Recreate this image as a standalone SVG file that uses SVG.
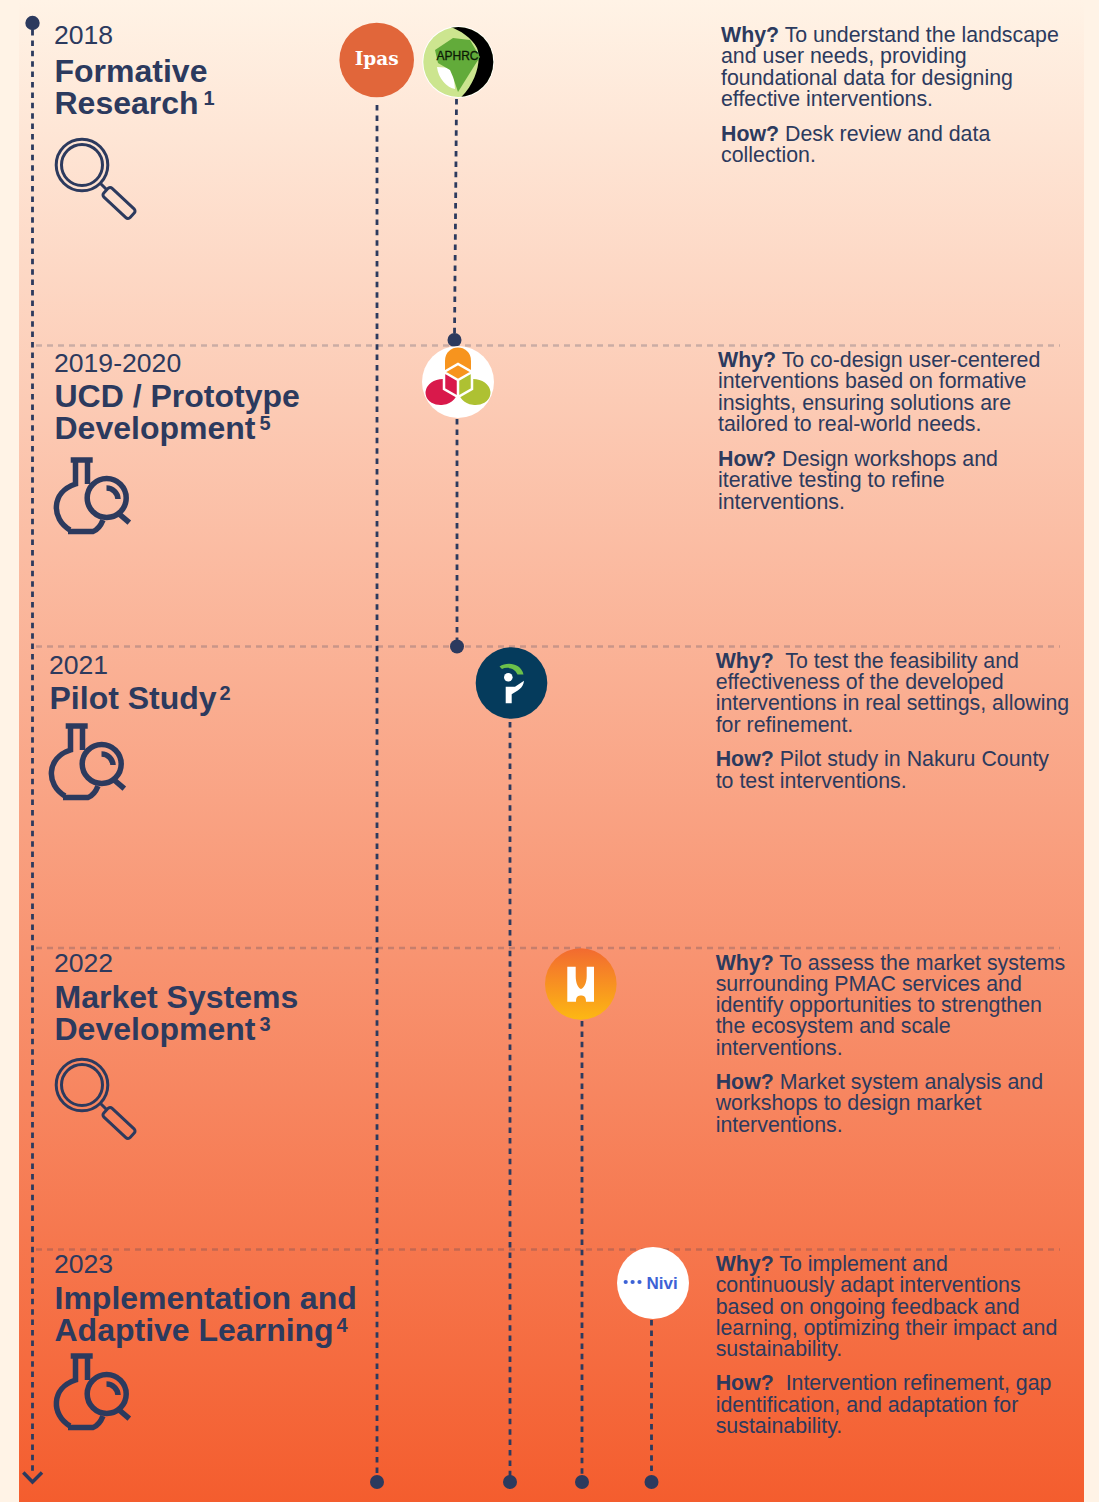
<svg xmlns="http://www.w3.org/2000/svg" width="1099" height="1502" viewBox="0 0 1099 1502">
<style>
text{font-family:"Liberation Sans",Arial,sans-serif;fill:#2c3a5e}
.y{font-size:26.6px}
.t{font-size:32px;font-weight:700}
.s{font-size:20px;font-weight:700}
.b{font-size:21.35px}
.b tspan.w{font-weight:700}
.d{fill:none;stroke:#2c3a5e;stroke-width:2.8;stroke-dasharray:5.5 4.9}
.r{fill:none;stroke:#2c3a5e;stroke-opacity:.24;stroke-width:2.5;stroke-dasharray:6 5}
.i{fill:none;stroke:#2c3a5e;stroke-width:3}
.f{fill:none;stroke:#2c3a5e;stroke-width:5.500}
.k{fill:#2c3a5e}
</style>
<defs>
<linearGradient id="bg" x1="0" y1="0" x2="0" y2="1"><stop offset="0" stop-color="#fff3e6"/><stop offset="1" stop-color="#f45d2e"/></linearGradient>
<linearGradient id="hg" x1="0" y1="0" x2="0" y2="1"><stop offset="0" stop-color="#f26a30"/><stop offset="1" stop-color="#fdb813"/></linearGradient>
<g id="lens"><circle cx="27" cy="26" r="25.800" class="i"/><circle cx="27" cy="26" r="20.500" class="i"/><path d="M45 44L52 51" class="i"/><rect x="-18" y="-6" width="36" height="12" rx="3" transform="translate(64 64) rotate(43)" class="i"/></g>
<g id="flask"><path d="M15.700 1H37.700" class="f"/><path d="M20.500 1V25C-4 33 -4 60 15 71M32.500 1V25M13 72.500H38C42 71 46 66 48 61" class="f"/><circle cx="51.700" cy="39" r="19.500" class="f"/><path d="M51.500 29A11.500 11.500 0 0 1 63 40" class="f"/><path d="M63 54L74.300 63.700" class="f"/></g>
<clipPath id="ac"><circle cx="458.300" cy="62" r="35"/></clipPath>
</defs>
<rect width="1099" height="1502" fill="#fff3e6"/>
<rect x="19" width="1065" height="1502" fill="url(#bg)"/>
<g id="connectors">
<path class="r" d="M36 345.500H1060M36 646.500H1060M36 948H1060M36 1249.500H1060"/>
<path class="d" d="M32.500 30V1472"/>
<path d="M23.300 1472.500L32.500 1482L42 1472.500" class="i" style="stroke-width:3.500"/>
<circle class="k" cx="32.500" cy="23" r="7.200"/>
<path class="d" d="M377 105V1478"/>
<circle class="k" cx="377" cy="1482" r="7"/>
<path class="d" d="M456.500 99L454.500 335"/>
<circle class="k" cx="454.500" cy="340" r="7"/>
<path class="d" d="M457 419V642"/>
<circle class="k" cx="457" cy="646.500" r="7"/>
<path class="d" d="M510 722V1478"/>
<circle class="k" cx="510" cy="1482" r="7"/>
<path class="d" d="M582 1021V1478"/>
<circle class="k" cx="582" cy="1482" r="7"/>
<path class="d" d="M651.500 1320V1478"/>
<circle class="k" cx="651.500" cy="1482" r="7"/>
</g>
<g id="ipas"><circle cx="376.700" cy="60" r="37.300" fill="#e1663a"/><text x="376.700" y="65" text-anchor="middle" style="font-family:'DejaVu Serif',serif;font-size:18.500px;font-weight:700;fill:#fff">Ipas</text></g>
<g id="aphrc"><circle cx="458.300" cy="62" r="36" fill="#fff"/><g clip-path="url(#ac)"><rect x="420" y="24" width="76" height="76" fill="#cce58f"/><path d="M437 67L453 68L455 89C447 88 438 78 437 67Z" fill="#fff"/><path d="M450 27L496 24V100H458C476 85 482 60 477 48C472 38 460 30 450 27Z" fill="#000"/></g><path d="M435 50L453 38L470 40L480 57L473 68L458 92L453 77L450 70L438 63Z" fill="#62ab3a"/><text x="457.500" y="59.500" text-anchor="middle" style="font-size:12px;font-weight:400;fill:#0c1a05;stroke:#0c1a05;stroke-width:.3">APHRC</text></g>
<g id="hcd"><circle cx="458" cy="382" r="36" fill="#fff"/><path d="M445 371V361C445 343 471 343 471 361V371L458 378Z" fill="#f7941e"/><ellipse cx="441.500" cy="392" rx="16" ry="13" transform="rotate(-8 441.500 392)" fill="#d9194b"/><ellipse cx="474.500" cy="392" rx="16" ry="13" transform="rotate(8 474.500 392)" fill="#aec132"/><path d="M444 372L458 364L472 372L458 380Z" fill="#f7941e"/><path d="M444 372L458 380V397L444 389Z" fill="#d9194b"/><path d="M472 372L458 380V397L472 389Z" fill="#aec132"/><path d="M444 372L458 364L472 372V389L458 397L444 389ZM444 372L458 380L472 372M458 380V397" fill="none" stroke="#fff" stroke-width="2.500"/></g>
<g id="pathfinder"><circle cx="511.500" cy="683" r="35.800" fill="#053b5c"/><path d="M499.500 666.500C507 661.500 521 663 523.500 674.500H517.500C515 668 507 666.500 502 669Z" fill="#6cc04a"/><circle cx="508.300" cy="677.300" r="4.300" fill="#fff"/><path d="M505.700 703.300V686.700H515L524 680.700C523.500 688 517 691 511.700 694.300V703.300Z" fill="#fff"/></g>
<g id="hst"><circle cx="580.800" cy="984" r="35.800" fill="url(#hg)"/><path d="M567.300 966.700H575.700V976C575.700 983 578 988 581 989C584 988 586.700 983 586.700 976V966.700H594V1001.700H586C586 996 583.500 995.500 581 995.500C578.500 995.500 576 996 576 1001.700H567.300Z" fill="#fff"/></g>
<g id="nivi"><circle cx="653" cy="1283" r="36" fill="#fff"/><g fill="#3c62d6"><circle cx="625.700" cy="1282" r="2.100"/><circle cx="632.600" cy="1282" r="2.100"/><circle cx="639.500" cy="1282" r="2.100"/></g><text x="646.500" y="1289.300" style="font-size:17px;font-weight:700;fill:#3c62d6">Nivi</text></g>

<g id="s2018">
<text class="y" x="54" y="43.500">2018</text>
<text class="t" x="54.500" y="82">Formative</text>
<text class="t" x="54.500" y="114">Research</text><text class="s" x="203.500" y="105">1</text>
<use href="#lens" x="55" y="139"/>
<text class="b" x="721" y="42"><tspan class="w">Why?</tspan> To understand the landscape</text>
<text class="b" x="721" y="63">and user needs, providing</text>
<text class="b" x="721" y="85">foundational data for designing</text>
<text class="b" x="721" y="106">effective interventions.</text>
<text class="b" x="721" y="141"><tspan class="w">How?</tspan> Desk review and data</text>
<text class="b" x="721" y="162">collection.</text>
</g>
<g id="s2019">
<text class="y" x="54" y="371.500">2019-2020</text>
<text class="t" x="54.500" y="407">UCD / Prototype</text>
<text class="t" x="54.500" y="439">Development</text><text class="s" x="259.500" y="430">5</text>
<use href="#flask" x="55" y="459"/>
<text class="b" x="718" y="367"><tspan class="w">Why?</tspan> To co-design user-centered</text>
<text class="b" x="718" y="388">interventions based on formative</text>
<text class="b" x="718" y="410">insights, ensuring solutions are</text>
<text class="b" x="718" y="431">tailored to real-world needs.</text>
<text class="b" x="718" y="466"><tspan class="w">How?</tspan> Design workshops and</text>
<text class="b" x="718" y="487">iterative testing to refine</text>
<text class="b" x="718" y="509">interventions.</text>
</g>
<g id="s2021">
<text class="y" x="49" y="674">2021</text>
<text class="t" x="49.500" y="708.500">Pilot Study</text><text class="s" x="219.500" y="700">2</text>
<use href="#flask" x="50" y="725"/>
<text class="b" x="715.700" y="668" xml:space="preserve"><tspan class="w">Why?</tspan>  To test the feasibility and</text>
<text class="b" x="715.700" y="689">effectiveness of the developed</text>
<text class="b" x="715.700" y="710">interventions in real settings, allowing</text>
<text class="b" x="715.700" y="732">for refinement.</text>
<text class="b" x="715.700" y="766"><tspan class="w">How?</tspan> Pilot study in Nakuru County</text>
<text class="b" x="715.700" y="788">to test interventions.</text>
</g>
<g id="s2022">
<text class="y" x="54" y="971.500">2022</text>
<text class="t" x="54.500" y="1007.500">Market Systems</text>
<text class="t" x="54.500" y="1039.500">Development</text><text class="s" x="259.500" y="1031">3</text>
<use href="#lens" x="55" y="1059"/>
<text class="b" x="715.700" y="970"><tspan class="w">Why?</tspan> To assess the market systems</text>
<text class="b" x="715.700" y="991">surrounding PMAC services and</text>
<text class="b" x="715.700" y="1012">identify opportunities to strengthen</text>
<text class="b" x="715.700" y="1033">the ecosystem and scale</text>
<text class="b" x="715.700" y="1055">interventions.</text>
<text class="b" x="715.700" y="1089"><tspan class="w">How?</tspan> Market system analysis and</text>
<text class="b" x="715.700" y="1110">workshops to design market</text>
<text class="b" x="715.700" y="1132">interventions.</text>
</g>
<g id="s2023">
<text class="y" x="54" y="1272.500">2023</text>
<text class="t" x="54.500" y="1308.500">Implementation and</text>
<text class="t" x="54.500" y="1340.500">Adaptive Learning</text><text class="s" x="336.500" y="1332">4</text>
<use href="#flask" x="55" y="1355"/>
<text class="b" x="715.700" y="1271"><tspan class="w">Why?</tspan> To implement and</text>
<text class="b" x="715.700" y="1292">continuously adapt interventions</text>
<text class="b" x="715.700" y="1314">based on ongoing feedback and</text>
<text class="b" x="715.700" y="1335">learning, optimizing their impact and</text>
<text class="b" x="715.700" y="1356">sustainability.</text>
<text class="b" x="715.700" y="1390" xml:space="preserve"><tspan class="w">How?</tspan>  Intervention refinement, gap</text>
<text class="b" x="715.700" y="1412">identification, and adaptation for</text>
<text class="b" x="715.700" y="1433">sustainability.</text>
</g>
</svg>
